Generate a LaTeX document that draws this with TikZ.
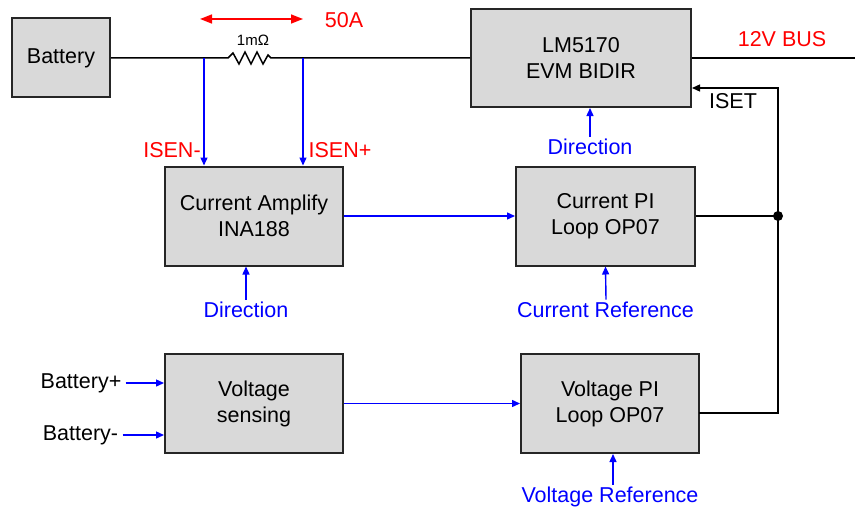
\documentclass[tikz,border=0pt]{standalone}
\usepackage{fontspec}
\setmainfont{Liberation Sans}
\usetikzlibrary{arrows.meta,positioning}
\newcommand{\blokkfont}{\fontsize{10.75}{13}\selectfont}
\newcommand{\litenfont}{\fontsize{7.5}{9}\selectfont}
\definecolor{blokkgraa}{RGB}{217,217,217}
\tikzset{
    %Define standard arrow tip
    >={Triangle[length=4pt,width=3.5pt]},
    %Define style for boxes
    blokk/.style={
           rectangle,
           draw=black!85, line width=1pt,
           fill=blokkgraa,
           align=center,
           inner sep=0pt,
           font=\blokkfont},
    %Define style for labels
    etikett/.style={
           inner sep=1pt,
           font=\blokkfont},
    % Define arrow style
    pil/.style={->, draw=blue, line width=0.7pt},
    svartpil/.style={->, draw=black, line width=0.7pt},
    rodpil/.style={<->, >={Triangle[length=6pt,width=4.5pt]}, draw=red, line width=0.8pt},
    buss/.style={draw=black, line width=0.75pt}
}
\begin{document}
\begin{tikzpicture}[x=0.5pt,y=-0.5pt]
\useasboundingbox (0,0) rectangle (855,508);
 %nodes
\node[blokk, minimum width=49pt, minimum height=39.5pt] (bat) at (61,58) {Battery};
\node[blokk, minimum width=110pt, minimum height=49pt] (lm) at (581,58) {LM5170\\EVM BIDIR};
\node[blokk, minimum width=89pt, minimum height=49.5pt] (amp) at (254,216) {Current Amplify\\INA188};
\node[blokk, minimum width=89.5pt, minimum height=49.5pt] (cpi) at (605.5,216) {Current PI\\Loop OP07};
\node[blokk, minimum width=89pt, minimum height=49.5pt] (vs) at (254,403.5) {Voltage\\sensing};
\node[blokk, minimum width=89pt, minimum height=49.5pt] (vpi) at (610,403.5) {Voltage PI\\Loop OP07};

 %labels
\node[font=\litenfont, inner sep=1pt] (ohm) at (253,40) {1mΩ};
\node[etikett, text=red] (femti) at (344,20) {50A};
\node[etikett, text=red] (isenm) at (172,150) {ISEN-};
\node[etikett, text=red] (isenp) at (340,150) {ISEN+};
\node[etikett, text=red] (busnavn) at (782,39) {12V BUS};
\node[etikett] (iset) at (733,101) {ISET};
\node[etikett, text=blue] (dirlm) at (590,147) {Direction};
\node[etikett, text=blue] (diramp) at (246,310) {Direction};
\node[etikett, text=blue] (iref) at (605.5,310) {Current Reference};
\node[etikett] (bpluss) at (81,383) {Battery+};
\node[etikett] (bminus) at (80.5,435) {Battery-};
\node[etikett, text=blue] (vref) at (610,497) {Voltage Reference};

 %points
\coordinate (rv) at (228,58);
\coordinate (tapm) at (204,58);
\coordinate (tapp) at (303,58);
\coordinate (busend) at (855,58);
\coordinate (strv) at (200,19);
\coordinate (strh) at (303,19);
\coordinate (vut) at (699,413);
\coordinate (isetpkt) at (778,88);

 %bus with shunt
\draw[buss] (bat.east) -- (rv) -- ++(5,-5) -- ++(6,11) -- ++(6,-12) -- ++(6,12)
    -- ++(6,-12) -- ++(6,12) -- ++(5,-9) -- ++(3,3) -- (lm.west);
\draw[buss] (lm.east) -- (busend);
\draw[rodpil] (strv) -- (strh);

 %signals
\draw[pil] (tapm) -- (tapm |- amp.north);
\draw[pil] (tapp) -- (tapp |- amp.north);
\draw[pil] (amp.east) -- (cpi.west |- amp.east);
\draw[pil] (vs.east) -- (vpi.west);
\draw[pil] (bpluss.east) ++(2,0) -- (vs.west |- bpluss);
\draw[pil] (bminus.east) ++(2,0) -- (vs.west |- bminus);
\draw[pil] (dirlm.north) -- (lm.south -| dirlm);
\draw[pil] (diramp.north) -- (amp.south -| diramp);
\draw[pil] ([xshift=0.25pt]iref.north) -- (cpi.south -| iref);
\draw[pil] ([xshift=1.5pt]vref.north) -- ([xshift=1.5pt]vpi.south);

 %feedback
\draw[buss] (cpi.east) -- (cpi.east -| isetpkt) coordinate (knute);
\fill (knute) circle (2.5pt);
\draw[svartpil] (vut) -| (isetpkt) -- (lm.east |- isetpkt);
\end{tikzpicture}
\end{document}
